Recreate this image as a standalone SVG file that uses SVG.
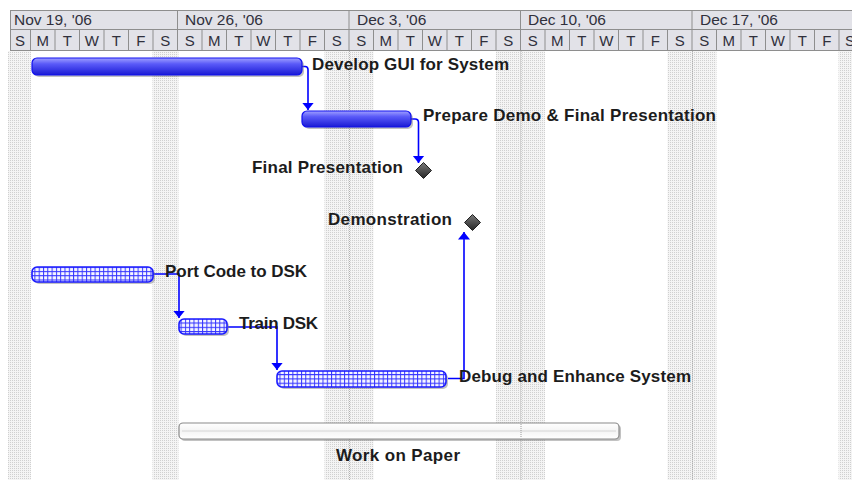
<svg xmlns="http://www.w3.org/2000/svg" width="852" height="480" viewBox="0 0 852 480">
<defs>
<style>
.hd{font-family:"Liberation Sans",Arial,sans-serif;font-size:15.5px;fill:#30303c}
.dl{font-family:"Liberation Sans",Arial,sans-serif;font-size:15px;fill:#30303c;text-anchor:middle}
.lb{font-family:"Liberation Sans",Arial,sans-serif;font-size:17px;font-weight:bold;fill:#1c1c1c}
.cn{fill:none;stroke:#0000ff;stroke-width:1.6;marker-end:url(#arr)}
.sh{fill:#777;opacity:.45}
.solid{fill:url(#blue);stroke:#1010f0;stroke-width:1.2}
.hatch{fill:url(#grid);stroke:#1a1aff;stroke-width:1.6}
.ms{fill:url(#dia);stroke:#202020;stroke-width:1}
</style>
<pattern id="dots" width="2" height="2" patternUnits="userSpaceOnUse"><rect width="2" height="2" fill="#f4f4f4"/><rect width="1" height="1" fill="#d0d0d0"/></pattern>
<pattern id="grid" width="4.3" height="4.3" patternUnits="userSpaceOnUse"><rect width="4.3" height="4.3" fill="#f6f6ff"/><path d="M0,0.5H4.3M0.5,0V4.3" stroke="#3535ff" stroke-width="1"/></pattern>
<linearGradient id="blue" x1="0" y1="0" x2="0" y2="1"><stop offset="0" stop-color="#a0a0ff"/><stop offset="0.35" stop-color="#5a5af8"/><stop offset="1" stop-color="#1a1ad4"/></linearGradient>
<linearGradient id="dia" x1="0" y1="0" x2="0" y2="1"><stop offset="0" stop-color="#7a7a7a"/><stop offset="1" stop-color="#262626"/></linearGradient>
<linearGradient id="wp" x1="0" y1="0" x2="0" y2="1"><stop offset="0" stop-color="#ffffff"/><stop offset="0.5" stop-color="#f4f4f4"/><stop offset="1" stop-color="#ffffff"/></linearGradient>
<marker id="arr" markerUnits="userSpaceOnUse" viewBox="0 0 8 14" markerWidth="8" markerHeight="14" refX="7.5" refY="7" orient="auto"><path d="M0,1 L7.5,7 L0,13 z" fill="#0000ff"/></marker>
</defs>
<rect width="852" height="480" fill="#ffffff"/>
<g id="weekends">
<rect x="8" y="51" width="23" height="429" fill="url(#dots)"/>
<rect x="152.5" y="51" width="26" height="429" fill="url(#dots)"/>
<rect x="324.5" y="51" width="49" height="429" fill="url(#dots)"/>
<rect x="496" y="51" width="49" height="429" fill="url(#dots)"/>
<rect x="667.5" y="51" width="49" height="429" fill="url(#dots)"/>
<rect x="838.5" y="51" width="14" height="429" fill="url(#dots)"/>
<path d="M349.5,51V480M521,51V480M692.5,51V480" stroke="#b0b0b0" stroke-width="1" stroke-dasharray="1 1"/>
</g>
<g id="header">
<rect x="10" y="10" width="842" height="40.5" fill="#e2e2e8"/>
<path d="M10,10.5H852M10,29.5H852M10,50.5H852M10.5,10V51M177.5,10V30M349,10V30M520.5,10V30M692,10V30" stroke="#8e8e8e" stroke-width="1" fill="none"/>
<path d="M30.5,30V51M55,30V51M79.5,30V51M104,30V51M128.5,30V51M153,30V51M177.5,30V51M202,30V51M226.5,30V51M251,30V51M275.5,30V51M300,30V51M324.5,30V51M349,30V51M373.5,30V51M398,30V51M422.5,30V51M447,30V51M471.5,30V51M496,30V51M520.5,30V51M545,30V51M569.5,30V51M594,30V51M618.5,30V51M643,30V51M667.5,30V51M692,30V51M716.5,30V51M741,30V51M765.5,30V51M790,30V51M814.5,30V51M839,30V51" stroke="#8e8e8e" stroke-width="1" fill="none"/>
<text class="hd" x="14" y="25">Nov 19, '06</text>
<text class="hd" x="185" y="25">Nov 26, '06</text>
<text class="hd" x="357" y="25">Dec 3, '06</text>
<text class="hd" x="528" y="25">Dec 10, '06</text>
<text class="hd" x="700" y="25">Dec 17, '06</text>
<text class="dl" x="20" y="46">S</text>
<text class="dl" x="42.75" y="46">M</text>
<text class="dl" x="67.25" y="46">T</text>
<text class="dl" x="91.75" y="46">W</text>
<text class="dl" x="116.25" y="46">T</text>
<text class="dl" x="140.75" y="46">F</text>
<text class="dl" x="165.25" y="46">S</text>
<text class="dl" x="189.75" y="46">S</text>
<text class="dl" x="214.25" y="46">M</text>
<text class="dl" x="238.75" y="46">T</text>
<text class="dl" x="263.25" y="46">W</text>
<text class="dl" x="287.75" y="46">T</text>
<text class="dl" x="312.25" y="46">F</text>
<text class="dl" x="336.75" y="46">S</text>
<text class="dl" x="361.25" y="46">S</text>
<text class="dl" x="385.75" y="46">M</text>
<text class="dl" x="410.25" y="46">T</text>
<text class="dl" x="434.75" y="46">W</text>
<text class="dl" x="459.25" y="46">T</text>
<text class="dl" x="483.75" y="46">F</text>
<text class="dl" x="508.25" y="46">S</text>
<text class="dl" x="532.75" y="46">S</text>
<text class="dl" x="557.25" y="46">M</text>
<text class="dl" x="581.75" y="46">T</text>
<text class="dl" x="606.25" y="46">W</text>
<text class="dl" x="630.75" y="46">T</text>
<text class="dl" x="655.25" y="46">F</text>
<text class="dl" x="679.75" y="46">S</text>
<text class="dl" x="704.25" y="46">S</text>
<text class="dl" x="728.75" y="46">M</text>
<text class="dl" x="753.25" y="46">T</text>
<text class="dl" x="777.75" y="46">W</text>
<text class="dl" x="802.25" y="46">T</text>
<text class="dl" x="826.75" y="46">F</text>
<text class="dl" x="850" y="46">S</text>
</g>
<g id="connectors">
<path class="cn" d="M302,66.5H305Q308,66.5 308,69.5V110"/>
<path class="cn" d="M411,119H415Q418.5,119 418.5,122.5V163"/>
<path class="cn" d="M153,274H179V318"/>
<path class="cn" d="M228,327H277V370"/>
<path class="cn" d="M448,378.5H464V232"/>
</g>
<g id="task-develop-gui">
<rect class="sh" x="34" y="60" width="270" height="17" rx="5"/>
<rect class="solid" x="32" y="58" width="270" height="17" rx="5"/>
<text class="lb" x="312" y="70" textLength="197">Develop GUI for System</text>
</g>
<g id="task-prepare-demo">
<rect class="sh" x="304" y="113" width="109" height="16" rx="5"/>
<rect class="solid" x="302" y="111" width="109" height="16" rx="5"/>
<text class="lb" x="423" y="121" textLength="293">Prepare Demo &amp; Final Presentation</text>
</g>
<g id="milestone-final-presentation">
<path class="ms" d="M423.5,162.5L431.5,170.5L423.5,178.5L415.5,170.5Z"/>
<text class="lb" x="252" y="173" textLength="151">Final Presentation</text>
</g>
<g id="milestone-demonstration">
<path class="ms" d="M472.5,214.5L480.5,222.5L472.5,230.5L464.5,222.5Z"/>
<text class="lb" x="328" y="225" textLength="124">Demonstration</text>
</g>
<g id="task-port-code">
<rect class="sh" x="34" y="269" width="121" height="15" rx="5"/>
<rect class="hatch" x="32" y="267" width="121" height="15" rx="5"/>
<text class="lb" x="165" y="277" textLength="142">Port Code to DSK</text>
</g>
<g id="task-train-dsk">
<rect class="sh" x="181" y="321" width="48" height="15" rx="5"/>
<rect class="hatch" x="179" y="319" width="48" height="15" rx="5"/>
<text class="lb" x="239" y="329" textLength="79">Train DSK</text>
</g>
<g id="task-debug">
<rect class="sh" x="279" y="373" width="169" height="16" rx="5"/>
<rect class="hatch" x="277" y="371" width="169" height="16" rx="5"/>
<text class="lb" x="459" y="382" textLength="232">Debug and Enhance System</text>
</g>
<g id="task-work-on-paper">
<rect class="sh" x="181" y="425" width="440" height="16" rx="4"/>
<rect x="179" y="423" width="440" height="16" rx="4" fill="url(#wp)" stroke="#8a8a8a" stroke-width="1.2"/>
<path d="M182,431H616" stroke="#d6d6d6" stroke-width="1"/>
<path d="M521,424V438" stroke="#9a9a9a" stroke-width="1" stroke-dasharray="1 1"/>
<text class="lb" x="336" y="461" textLength="124">Work on Paper</text>
</g>
</svg>
